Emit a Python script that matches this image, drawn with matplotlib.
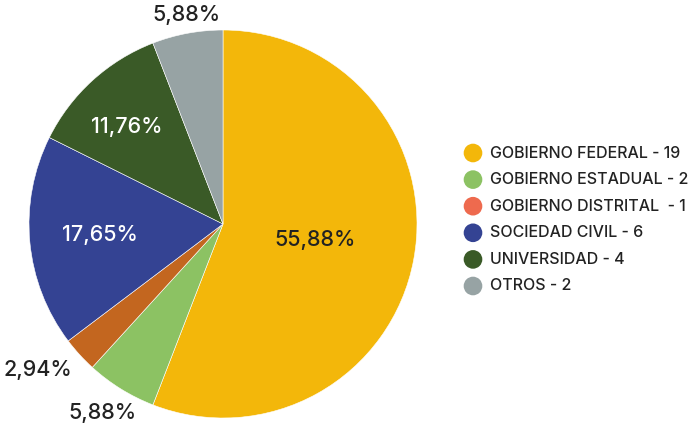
import matplotlib
matplotlib.use("Agg")
import matplotlib.pyplot as plt

categories = ["GOBIERNO FEDERAL", "GOBIERNO ESTADUAL", "GOBIERNO DISTRITAL ", "SOCIEDAD CIVIL", "UNIVERSIDAD", "OTROS"]
values = [19, 2, 1, 6, 4, 2]
slice_colors = ["#F3B70A", "#8CC263", "#C3661F", "#344393", "#3A5A27", "#97A3A4"]
legend_colors = ["#F3B70A", "#8CC263", "#EE6A4E", "#344393", "#3A5A27", "#97A3A4"]
label_colors = ["#222222", "#222222", "#222222", "white", "white", "#222222"]
# label positions in data units (radius = 1)
label_pos = [(0.474, -0.082), (-0.619, -0.974), (-0.954, -0.753), (-0.634, -0.057), (-0.495, 0.50), (-0.186, 1.077)]

plt.rcParams['font.family'] = ['Inter', 'DejaVu Sans']

W, H = 692, 432
fig = plt.figure(figsize=(W/100, H/100), dpi=100)
cx, cy, r = 223, 224, 194
ax = fig.add_axes([(cx - r)/W, (H - cy - r)/H, 2*r/W, 2*r/H])
ax.pie(values, colors=slice_colors, startangle=90, counterclock=False,
       radius=1, wedgeprops=dict(edgecolor="white", linewidth=0.4))
ax.set_xlim(-1, 1)
ax.set_ylim(-1, 1)
ax.set_aspect('equal')
ax.axis('off')
ax.set_clip_on(False)

total = sum(values)
for v, (x, y), c in zip(values, label_pos, label_colors):
    txt = f"{100*v/total:.2f}%".replace(".", ",")
    ax.text(x, y, txt, ha="center", va="center", fontsize=15.5, color=c,
            fontweight="medium", clip_on=False)

lax = fig.add_axes([0, 0, 1, 1])
lax.set_xlim(0, W)
lax.set_ylim(H, 0)
lax.axis('off')
y0, dy = 153, 26.6
for i, (cat, v, col) in enumerate(zip(categories, values, legend_colors)):
    y = y0 + i*dy
    lax.scatter([473], [y], s=180, color=col, edgecolors='none')
    lax.text(490, y, f"{cat} - {v}", ha="left", va="center", fontsize=11.5,
             fontweight="medium", color="#222222")

fig.savefig("out.png", dpi=100)
